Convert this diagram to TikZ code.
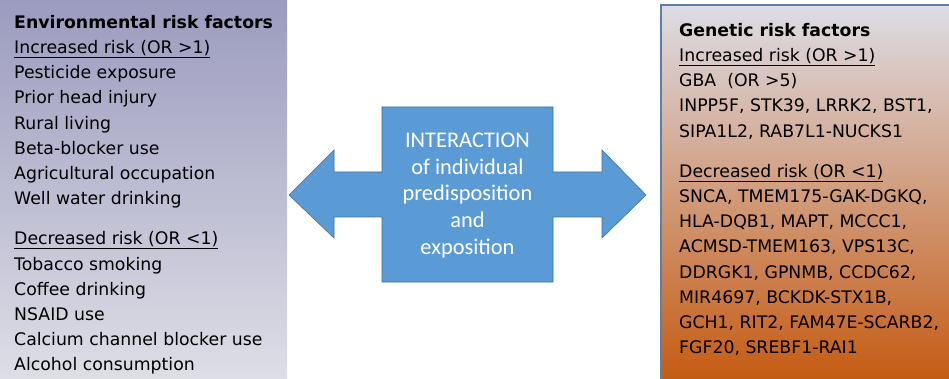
\documentclass[tikz,border=0pt]{standalone}
\usepackage{fontspec}
\setmainfont{DejaVu Sans}
\newfontfamily\calib{Carlito}
\usetikzlibrary{arrows.meta}

\definecolor{envtop}{HTML}{9B9BBF}
\definecolor{envbot}{HTML}{DEDEE6}
\definecolor{gentop}{HTML}{DDDDE6}
\definecolor{genmid}{HTML}{D0BDBD}
\definecolor{genbot}{HTML}{C55A11}
\definecolor{genedge}{HTML}{5B7FA8}
\definecolor{arrfill}{HTML}{5B9BD5}
\definecolor{arredge}{HTML}{41719C}

\tikzset{
  listtext/.style={anchor=north west, inner sep=0pt, align=left,
    font={\fontsize{17.3}{25.2}\selectfont}},
  midtext/.style={text=white, align=center, inner sep=0pt,
    font={\calib\fontsize{22.4}{26.8}\selectfont}}
}

\begin{document}
\begin{tikzpicture}[x=1pt,y=-1pt]
    \useasboundingbox (0,0) rectangle (949,379);

    % the two boxes
    \shade[top color=envtop, bottom color=envbot] (0,0) rectangle (287,379);
    \shade[top color=gentop, middle color=genmid, bottom color=genbot,
      draw=genedge, line width=1.2pt] (661,5) rectangle (952,383);

    % the double arrow
    \begin{scope}[fill=arrfill, draw=arredge, line width=0.6pt]
      \coordinate (ltip) at (289,195);
      \coordinate (rtip) at (646,195);
      \filldraw (ltip) -- (334,150) -- (334,172) -- (382,172) -- (382,107)
        -- (553,107) -- (553,172) -- (602,172) -- (602,150) -- (rtip)
        -- (602,238) -- (602,217) -- (553,217) -- (553,282) -- (382,282)
        -- (382,217) -- (334,217) -- (334,238) -- cycle;
    \end{scope}

    \node[midtext] (inter) at (467.5,195.5)
      {INTERACTION\\of individual\\predisposition\\and\\exposition};

    \node[listtext] (env) at (14,15)
      {\textbf{Environmental risk factors}\\
       \underline{Increased risk (OR >1)}\\
       Pesticide exposure\\
       Prior head injury\\
       Rural living\\
       Beta-blocker use\\
       Agricultural occupation\\
       Well water drinking\\[15pt]
       \underline{Decreased risk (OR <1)}\\
       Tobacco smoking\\
       Coffee drinking\\
       NSAID use\\
       Calcium channel blocker use\\
       Alcohol consumption};

    \node[listtext] (gen) at (679,23)
      {\textbf{Genetic risk factors}\\
       \underline{Increased risk (OR >1)}\\
       GBA\ \ (OR >5)\\
       INPP5F, STK39, LRRK2, BST1,\\
       SIPA1L2, RAB7L1-NUCKS1\\[15pt]
       \underline{Decreased risk (OR <1)}\\
       SNCA, TMEM175-GAK-DGKQ,\\
       HLA-DQB1, MAPT, MCCC1,\\
       ACMSD-TMEM163, VPS13C,\\
       DDRGK1, GPNMB, CCDC62,\\
       MIR4697, BCKDK-STX1B,\\
       GCH1, RIT2, FAM47E-SCARB2,\\
       FGF20, SREBF1-RAI1};
\end{tikzpicture}
\end{document}
